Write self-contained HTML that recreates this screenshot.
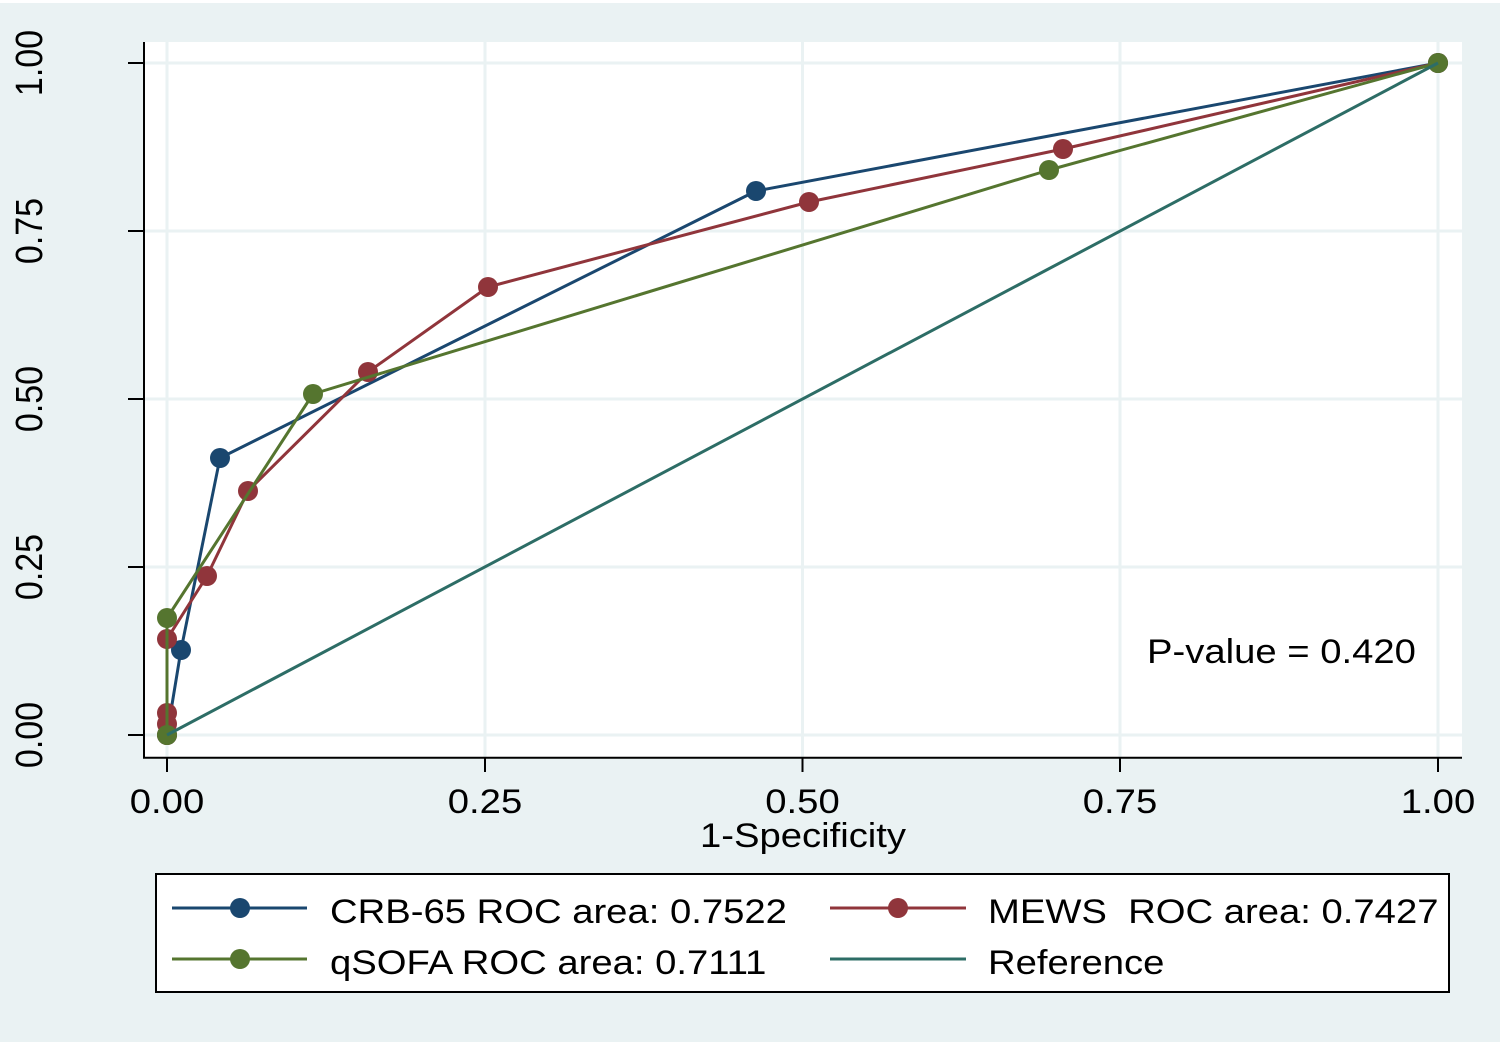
<!DOCTYPE html>
<html>
<head>
<meta charset="utf-8">
<style>
  html, body { margin: 0; padding: 0; background: #eaf2f3; }
  svg { display: block; }
  text { font-family: "Liberation Sans", Arial, sans-serif; font-size: 34px; fill: #000; }
</style>
</head>
<body>
<svg width="1500" height="1042" viewBox="0 0 1500 1042" xmlns="http://www.w3.org/2000/svg">
  <!-- outer background -->
  <rect x="0" y="0" width="1500" height="1042" fill="#eaf2f3"/>
  <rect x="0" y="0" width="1500" height="3" fill="#ffffff"/>
  <!-- plot region -->
  <rect x="145" y="42" width="1317" height="716" fill="#ffffff"/>

  <!-- grid lines -->
  <g stroke="#eaf2f3" stroke-width="3">
    <line x1="145" y1="63" x2="1462" y2="63"/>
    <line x1="145" y1="231" x2="1462" y2="231"/>
    <line x1="145" y1="399" x2="1462" y2="399"/>
    <line x1="145" y1="567" x2="1462" y2="567"/>
    <line x1="145" y1="735" x2="1462" y2="735"/>
    <line x1="167" y1="42" x2="167" y2="757"/>
    <line x1="485" y1="42" x2="485" y2="757"/>
    <line x1="802.5" y1="42" x2="802.5" y2="757"/>
    <line x1="1120" y1="42" x2="1120" y2="757"/>
    <line x1="1438" y1="42" x2="1438" y2="757"/>
  </g>

  <!-- axes -->
  <g stroke="#000" stroke-width="2" fill="none">
    <line x1="144" y1="42" x2="144" y2="758.5"/>
    <line x1="143" y1="757.7" x2="1462" y2="757.7"/>
    <!-- y ticks -->
    <line x1="128" y1="63" x2="144" y2="63"/>
    <line x1="128" y1="231" x2="144" y2="231"/>
    <line x1="128" y1="399" x2="144" y2="399"/>
    <line x1="128" y1="567" x2="144" y2="567"/>
    <line x1="128" y1="735" x2="144" y2="735"/>
    <!-- x ticks -->
    <line x1="167" y1="758" x2="167" y2="772"/>
    <line x1="485" y1="758" x2="485" y2="772"/>
    <line x1="802.5" y1="758" x2="802.5" y2="772"/>
    <line x1="1120" y1="758" x2="1120" y2="772"/>
    <line x1="1438" y1="758" x2="1438" y2="772"/>
  </g>

  <!-- y tick labels -->
  <g text-anchor="middle">
    <text transform="translate(42,63) scale(1.125,1) rotate(-90)">1.00</text>
    <text transform="translate(42,231) scale(1.125,1) rotate(-90)">0.75</text>
    <text transform="translate(42,399) scale(1.125,1) rotate(-90)">0.50</text>
    <text transform="translate(42,567) scale(1.125,1) rotate(-90)">0.25</text>
    <text transform="translate(42,735) scale(1.125,1) rotate(-90)">0.00</text>
  </g>

  <!-- x tick labels -->
  <g text-anchor="middle">
    <text transform="translate(167,813) scale(1.125,1)">0.00</text>
    <text transform="translate(485,813) scale(1.125,1)">0.25</text>
    <text transform="translate(802.5,813) scale(1.125,1)">0.50</text>
    <text transform="translate(1120,813) scale(1.125,1)">0.75</text>
    <text transform="translate(1438,813) scale(1.125,1)">1.00</text>
    <text transform="translate(803,847) scale(1.125,1)">1-Specificity</text>
  </g>

  <!-- CRB-65 -->
  <polyline fill="none" stroke="#1a476f" stroke-width="3" stroke-linejoin="round"
    points="167,735 181,650 220,458 756,191 1438,63"/>
  <g fill="#1a476f">
    <circle cx="167" cy="735" r="10"/>
    <circle cx="181" cy="650" r="10"/>
    <circle cx="220" cy="458" r="10"/>
    <circle cx="756" cy="191" r="10"/>
    <circle cx="1438" cy="63" r="10"/>
  </g>

  <!-- MEWS -->
  <polyline fill="none" stroke="#90353b" stroke-width="3" stroke-linejoin="round"
    points="167,735 167,724 167,713 167,639 207,576 248,491 368,372 488,287 809,202 1063,149 1438,63"/>
  <g fill="#90353b">
    <circle cx="167" cy="735" r="10"/>
    <circle cx="167" cy="724" r="10"/>
    <circle cx="167" cy="713" r="10"/>
    <circle cx="167" cy="639" r="10"/>
    <circle cx="207" cy="576" r="10"/>
    <circle cx="248" cy="491" r="10"/>
    <circle cx="368" cy="372" r="10"/>
    <circle cx="488" cy="287" r="10"/>
    <circle cx="809" cy="202" r="10"/>
    <circle cx="1063" cy="149" r="10"/>
    <circle cx="1438" cy="63" r="10"/>
  </g>

  <!-- qSOFA -->
  <polyline fill="none" stroke="#55752f" stroke-width="3" stroke-linejoin="round"
    points="167,735 167,618 313,394 1049,170 1438,63"/>
  <g fill="#55752f">
    <circle cx="167" cy="735" r="10"/>
    <circle cx="167" cy="618" r="10"/>
    <circle cx="313" cy="394" r="10"/>
    <circle cx="1049" cy="170" r="10"/>
    <circle cx="1438" cy="63" r="10"/>
  </g>

  <!-- Reference -->
  <line x1="167" y1="735" x2="1438" y2="63" stroke="#2d6d66" stroke-width="3"/>

  <!-- P-value -->
  <text transform="translate(1147,663) scale(1.125,1)">P-value = 0.420</text>

  <!-- legend -->
  <rect x="156" y="874" width="1293" height="118" fill="#ffffff" stroke="#000" stroke-width="2"/>
  <line x1="172" y1="908" x2="307" y2="908" stroke="#1a476f" stroke-width="3"/>
  <circle cx="240" cy="908" r="10" fill="#1a476f"/>
  <line x1="172" y1="959" x2="307" y2="959" stroke="#55752f" stroke-width="3"/>
  <circle cx="240" cy="959" r="10" fill="#55752f"/>
  <line x1="830" y1="908" x2="966" y2="908" stroke="#90353b" stroke-width="3"/>
  <circle cx="898" cy="908" r="10" fill="#90353b"/>
  <line x1="830" y1="959" x2="966" y2="959" stroke="#2d6d66" stroke-width="3"/>

  <text transform="translate(330,923) scale(1.125,1)">CRB-65 ROC area: 0.7522</text>
  <text transform="translate(330,974) scale(1.125,1)">qSOFA ROC area: 0.7111</text>
  <text transform="translate(988,923) scale(1.125,1)" xml:space="preserve">MEWS  ROC area: 0.7427</text>
  <text transform="translate(988,974) scale(1.125,1)">Reference</text>
</svg>
</body>
</html>
